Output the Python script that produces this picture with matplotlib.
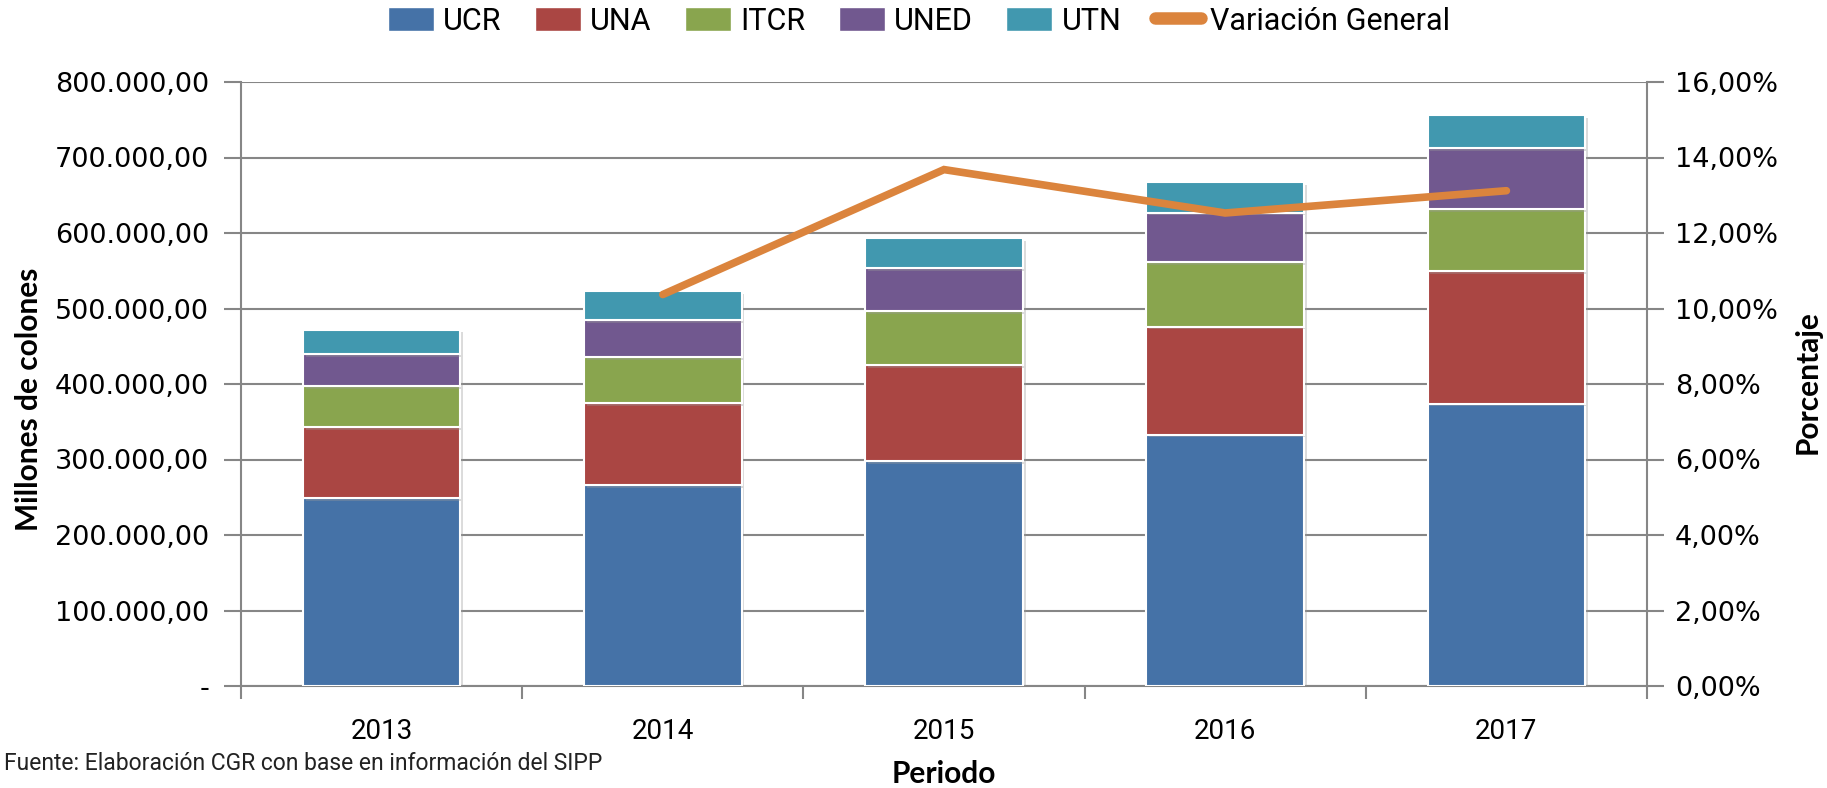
import numpy as np
import matplotlib
matplotlib.use("Agg")
import matplotlib.pyplot as plt
import matplotlib.patheffects as pe
from matplotlib.ticker import FuncFormatter, MultipleLocator, FixedLocator
from matplotlib.lines import Line2D
from matplotlib.patches import Patch

years = ["2013", "2014", "2015", "2016", "2017"]
ucr = [249000, 266000, 298000, 333000, 374000]
una = [94000, 109000, 127000, 143000, 176000]
itcr = [54000, 61000, 72000, 85000, 82000]
uned = [43000, 49000, 57000, 66000, 80000]
utn = [32000, 38000, 39000, 40000, 44000]
variacion = [np.nan, 10.37, 13.68, 12.53, 13.12]

series_names = ["UCR", "UNA", "ITCR", "UNED", "UTN"]
colors = ["#4572A7", "#AA4643", "#89A54E", "#71588F", "#4198AF"]
line_color = "#DB843D"
grid_color = "#868686"

narrow = ["Roboto", "DejaVu Sans"]
title_font = ["Lato", "DejaVu Sans"]

fig = plt.figure(figsize=(18.27, 7.88), dpi=100)
ax = fig.add_axes([241 / 1827, 1 - 686 / 788, (1647 - 241) / 1827, (686 - 82) / 788])

x = np.arange(len(years))
bottom = np.zeros(len(years))
shadow = [pe.SimplePatchShadow(offset=(2, -2), shadow_rgbFace="#999999", alpha=0.35), pe.Normal()]
for name, vals, col in zip(series_names, [ucr, una, itcr, uned, utn], colors):
    bars = ax.bar(x, vals, 0.56, bottom=bottom, color=col, edgecolor="white",
                  linewidth=1.5, zorder=3, label=name)
    for b in bars:
        b.set_path_effects(shadow)
    bottom += np.array(vals)

ax.set_xlim(-0.5, 4.5)
ax.set_ylim(0, 800000)
ax.yaxis.set_major_locator(MultipleLocator(100000))


def fmt_left(v, pos):
    if v == 0:
        return "-"
    s = f"{v:,.2f}"
    return s.replace(",", "X").replace(".", ",").replace("X", ".")


ax.yaxis.set_major_formatter(FuncFormatter(fmt_left))
ax.grid(axis="y", color=grid_color, linewidth=1.5, zorder=0)
ax.set_axisbelow(True)

ax.set_xticks(x)
ax.set_xticklabels(years, fontsize=20, family=narrow)
ax.xaxis.set_minor_locator(FixedLocator(np.arange(-0.5, 5, 1)))
ax.tick_params(axis="x", which="major", length=0, pad=23)
ax.tick_params(axis="x", which="minor", length=9, width=1.5, color=grid_color, direction="out")
ax.tick_params(axis="y", length=12, width=1.5, color=grid_color, labelsize=19.5, pad=11)

for side in ["top", "right"]:
    ax.spines[side].set_visible(False)
for side in ["left", "bottom"]:
    ax.spines[side].set_color(grid_color)
    ax.spines[side].set_linewidth(1.5)

ax.set_ylabel("Millones de colones", fontsize=21.5, fontweight="bold", family=title_font)
ax.yaxis.set_label_coords(-0.141, 0.475)
ax.set_xlabel("Periodo", fontsize=21.5, fontweight="bold", family=title_font)
ax.xaxis.set_label_coords(0.5, -0.122)

ax2 = ax.twinx()
ax2.plot(x, variacion, color=line_color, linewidth=5.5, solid_capstyle="round",
         solid_joinstyle="miter", zorder=5)
ax2.set_ylim(0, 16)
ax2.yaxis.set_major_locator(MultipleLocator(2))
ax2.yaxis.set_major_formatter(FuncFormatter(lambda v, p: f"{v:.2f}%".replace(".", ",")))
ax2.tick_params(axis="y", length=12, width=1.5, color=grid_color, labelsize=19.5, pad=8)
for side in ["top", "left", "bottom"]:
    ax2.spines[side].set_visible(False)
ax2.spines["right"].set_color(grid_color)
ax2.spines["right"].set_linewidth(1.5)
ax2.set_ylabel("Porcentaje", fontsize=21.5, fontweight="bold", family=title_font)
ax2.yaxis.set_label_coords(1.104, 0.503)

handles = [Patch(facecolor=c, edgecolor="white") for c in colors]
handles.append(Line2D([0], [0], color=line_color, linewidth=9, solid_capstyle="round"))
labels = series_names + ["Variación General"]
fig.legend(handles, labels, loc="center", bbox_to_anchor=(0.503, 1 - 21 / 788), ncol=6,
           frameon=False, prop={"family": narrow, "size": 22}, handlelength=1.5,
           handleheight=0.8, handletextpad=0.3, columnspacing=1.1)

fig.text(0.002, 1 - 764 / 788, "Fuente: Elaboración CGR con base en información del SIPP",
         fontsize=16.5, family=narrow, va="center", ha="left", color="#222222")

fig.savefig("out.png", dpi=100)
